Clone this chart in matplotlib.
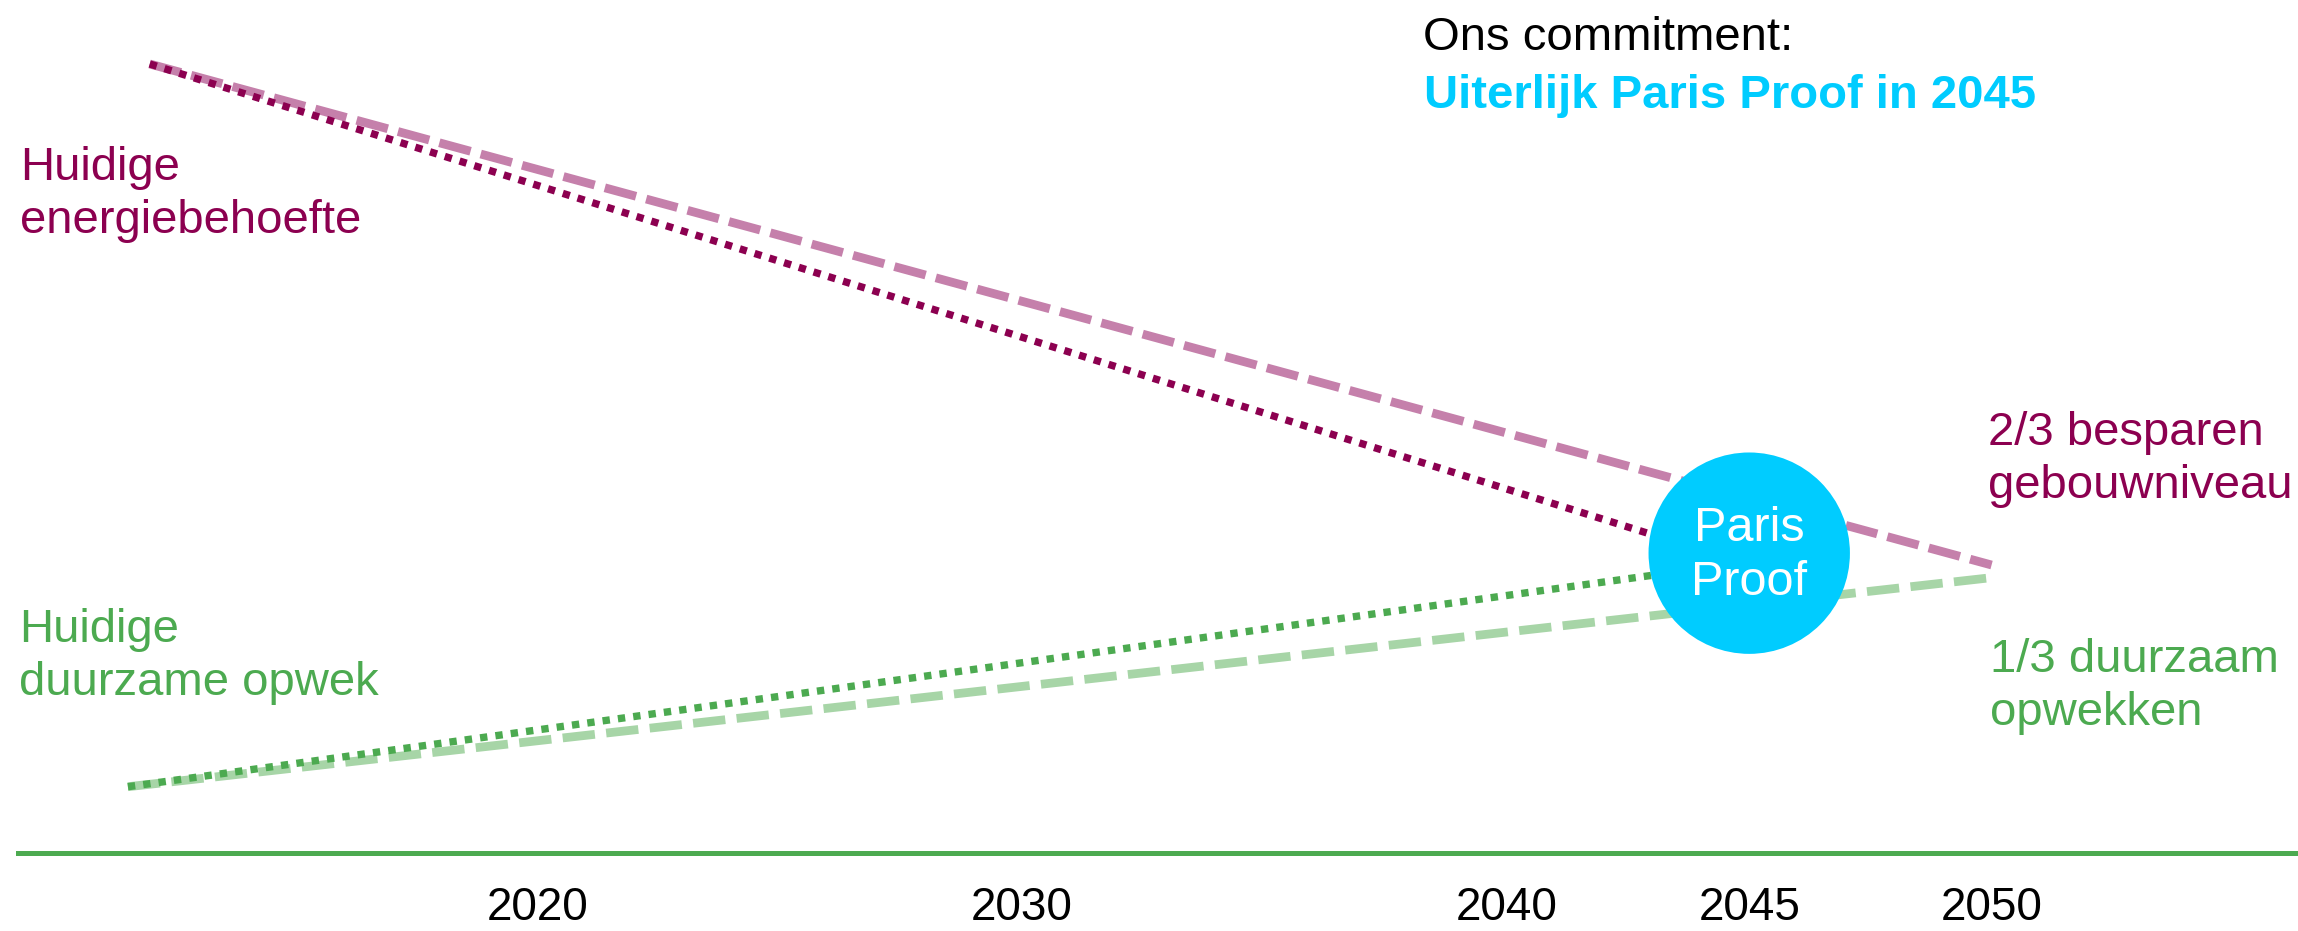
import matplotlib.pyplot as plt

plt.rcParams['font.family'] = ['Liberation Sans', 'DejaVu Sans']

# data
years_ticks = [2020, 2030, 2040, 2045, 2050]
tick_labels = ['2020', '2030', '2040', '2045', '2050']

energy_years = [2012, 2050]
energy_dashed = [100, 36.5]
energy_dot_years = [2012, 2045]
energy_dotted = [100, 36.5]

green_years = [2011.55, 2050]
green_dashed = [8.4, 34.9]
green_dot_years = [2011.55, 2045]
green_dotted = [8.4, 36.9]

proof_year = [2045]
proof_value = [38.0]

# colours
PURPLE = '#8C0050'
PURPLE_LIGHT = '#C580AB'
GREEN = '#4CAA50'
GREEN_LIGHT = '#A7D5A7'
CYAN = '#00CCFF'

W, H = 2298, 931
fig = plt.figure(figsize=(W / 100, H / 100), dpi=100)
ax = fig.add_axes([0, 0, 1, 1])
ax.set_xlim(2008.911, 2056.322)
ax.set_ylim(-9.886, 108.11)


def px(x, y):
    # pixel position (from top-left) -> figure fraction
    return x / W, 1 - y / H


# lines
ax.plot(energy_years, energy_dashed, color=PURPLE_LIGHT, lw=6.3,
        dashes=(3.7, 1.2), dash_capstyle='butt', zorder=2)
ax.plot(green_years, green_dashed, color=GREEN_LIGHT, lw=6.3,
        dashes=(3.7, 1.3), dash_capstyle='butt', zorder=2)
ax.plot(energy_dot_years, energy_dotted, color=PURPLE, lw=5.3,
        dashes=(1.0, 1.1), dash_capstyle='butt', zorder=3)
ax.plot(green_dot_years, green_dotted, color=GREEN, lw=5.3,
        dashes=(1.0, 1.1), dash_capstyle='butt', zorder=3)

# paris proof circle
ax.scatter(proof_year, proof_value, s=145 ** 2, color=CYAN, edgecolors='none', zorder=4)
ax.text(proof_year[0], proof_value[0] - 0.3, 'Paris\nProof', color='white', fontsize=35,
        ha='center', va='center', multialignment='center', linespacing=1.25, zorder=5)

# axis
for s in ['top', 'left', 'right']:
    ax.spines[s].set_visible(False)
ax.spines['bottom'].set_position(('data', 0))
ax.spines['bottom'].set_bounds(2009.28, 2056.4)
ax.spines['bottom'].set_color(GREEN)
ax.spines['bottom'].set_linewidth(3.6)
ax.set_yticks([])
ax.set_xticks(years_ticks)
ax.set_xticklabels(tick_labels)
ax.tick_params(axis='x', length=0, labelsize=33, pad=24, labelcolor='black')

# annotations (y = baseline of the last line)
txt = dict(fontsize=34, ha='left', va='baseline', linespacing=1.27)
fig.text(*px(20, 233), 'Huidige\nenergiebehoefte', color=PURPLE, **txt)
fig.text(*px(19, 695), 'Huidige\nduurzame opwek', color=GREEN, **txt)
fig.text(*px(1988, 498), '2/3 besparen\ngebouwniveau', color=PURPLE, **txt)
fig.text(*px(1990, 725), '1/3 duurzaam\nopwekken', color=GREEN, **txt)
fig.text(*px(1423, 50), 'Ons commitment:', color='black', **txt)
fig.text(*px(1424, 108), 'Uiterlijk Paris Proof in 2045', color=CYAN,
         fontweight='bold', **txt)

fig.savefig('out.png', dpi=100, facecolor='white')
